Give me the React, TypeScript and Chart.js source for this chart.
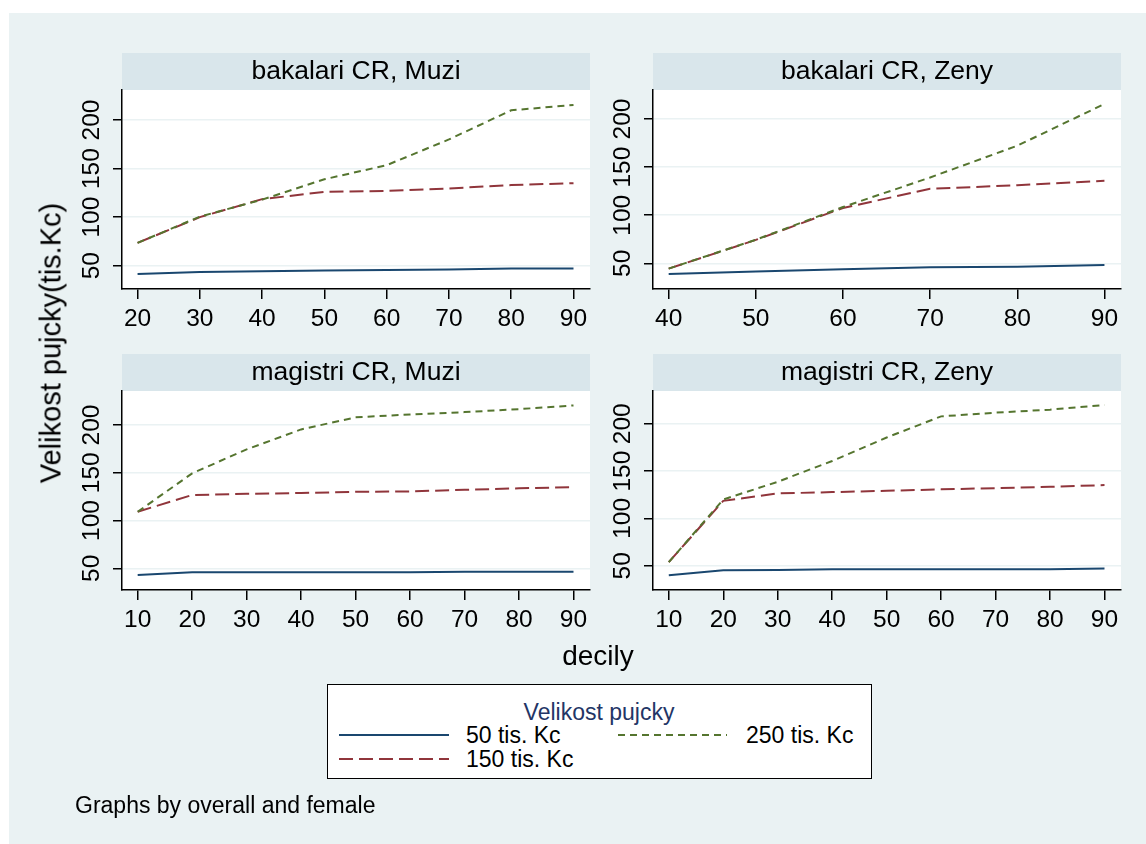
import React, { useEffect, useRef } from 'react';
import { Chart, registerables } from 'chart.js';

Chart.register(...registerables);

// ---------------- data ----------------
const yTicks = [50, 100, 150, 200];
const seriesLabels = ['50 tis. Kc', '150 tis. Kc', '250 tis. Kc'];
const panelTitles = ['bakalari CR, Muzi', 'bakalari CR, Zeny', 'magistri CR, Muzi', 'magistri CR, Zeny'];

const bakalariMuziDecily = [20, 30, 40, 50, 60, 70, 80, 90];
const bakalariMuzi50 = [41.5, 43.5, 44.2, 45, 45.5, 46.2, 47, 47.2];
const bakalariMuzi150 = [73.5, 100, 118.5, 126, 127, 129.5, 133, 135];
const bakalariMuzi250 = [73.5, 100.5, 118, 139, 153.5, 180, 210, 215.5];

const bakalariZenyDecily = [40, 50, 60, 70, 80, 90];
const bakalariZeny50 = [39, 41.5, 43.7, 45.8, 46.5, 48.2];
const bakalariZeny150 = [44.5, 74.3, 107.5, 127.4, 131.2, 135.7];
const bakalariZeny250 = [44.5, 74.5, 108.5, 139.2, 172.2, 215.6];

const magistriDecily = [10, 20, 30, 40, 50, 60, 70, 80, 90];
const magistriMuzi50 = [43, 45.8, 45.8, 45.8, 45.8, 45.8, 46.5, 46.5, 46.5];
const magistriMuzi150 = [109.2, 126.7, 128, 128.8, 130.1, 130.5, 132.2, 133.7, 135];
const magistriMuzi250 = [109.2, 149.4, 174.5, 195.4, 208, 211, 213.5, 216.6, 220.5];

const magistriZeny50 = [40, 45.3, 45.5, 46.4, 46.4, 46.4, 46.4, 46.4, 47.1];
const magistriZeny150 = [53.8, 118.6, 126.4, 127.8, 129.2, 130.7, 132, 133.4, 135.2];
const magistriZeny250 = [53.8, 120, 138.7, 160.7, 185.5, 207.8, 211.7, 214.9, 219.8];

// ---------------- styling / layout ----------------
const W = 1146;
const H = 844;
const FONT = '"Liberation Sans", Arial, Helvetica, sans-serif';
const BG = '#eaf2f3';
const STRIP = '#d9e6eb';
const COLORS = ['#1a476f', '#90353b', '#55752f'];
const DASHES: number[][] = [[], [14, 6], [7, 5]];
const YW = 70; // reserved y-axis box width
const XH = 60; // reserved x-axis box height

type PanelDef = {
  title: string;
  decily: number[];
  series: number[][];
  box: { l: number; t: number; r: number; b: number };
  stripTop: number;
  xr: [number, number];
  yr: [number, number];
};

const panels: PanelDef[] = [
  {
    title: panelTitles[0],
    decily: bakalariMuziDecily,
    series: [bakalariMuzi50, bakalariMuzi150, bakalariMuzi250],
    box: { l: 122, t: 90, r: 590, b: 289 },
    stripTop: 53,
    xr: [17.5, 92.65],
    yr: [26, 230.9],
  },
  {
    title: panelTitles[1],
    decily: bakalariZenyDecily,
    series: [bakalariZeny50, bakalariZeny150, bakalariZeny250],
    box: { l: 653, t: 90, r: 1121, b: 289 },
    stripTop: 53,
    xr: [38.2, 91.9],
    yr: [23.3, 230.1],
  },
  {
    title: panelTitles[2],
    decily: magistriDecily,
    series: [magistriMuzi50, magistriMuzi150, magistriMuzi250],
    box: { l: 122, t: 391, r: 590, b: 590 },
    stripTop: 354,
    xr: [7.12, 93.03],
    yr: [27.3, 235.6],
  },
  {
    title: panelTitles[3],
    decily: magistriDecily,
    series: [magistriZeny50, magistriZeny150, magistriZeny250],
    box: { l: 653, t: 391, r: 1121, b: 590 },
    stripTop: 354,
    xr: [7.1, 93.03],
    yr: [24.4, 234.6],
  },
];

const plotBg = {
  id: 'plotBg',
  beforeDraw(chart: any) {
    const { ctx, chartArea: a } = chart;
    ctx.save();
    ctx.fillStyle = '#ffffff';
    ctx.fillRect(a.left, a.top, a.right - a.left, a.bottom - a.top);
    ctx.restore();
  },
};

function Panel({ p }: { p: PanelDef }) {
  const ref = useRef<HTMLCanvasElement>(null);
  useEffect(() => {
    const canvas = ref.current;
    if (!canvas) return;
    const datasets = p.series.map((vals, si) => ({
      label: seriesLabels[si],
      data: p.decily.map((x, i) => ({ x, y: vals[i] })),
      borderColor: COLORS[si],
      backgroundColor: COLORS[si],
      borderWidth: 2,
      borderDash: DASHES[si],
      pointRadius: 0,
      tension: 0,
      fill: false,
      order: 2 - si,
    }));
    const chart = new Chart(canvas, {
      type: 'line',
      data: { datasets },
      plugins: [plotBg],
      options: {
        animation: false,
        responsive: false,
        maintainAspectRatio: false,
        events: [],
        layout: {
          padding: {
            left: p.box.l - YW,
            top: p.box.t,
            right: W - p.box.r,
            bottom: H - p.box.b - XH,
          },
        },
        plugins: { legend: { display: false }, tooltip: { enabled: false }, title: { display: false } },
        scales: {
          x: {
            type: 'linear',
            min: p.xr[0],
            max: p.xr[1],
            afterBuildTicks: (s: any) => {
              s.ticks = p.decily.map((v) => ({ value: v }));
            },
            afterFit: (s: any) => {
              s.height = XH;
            },
            grid: {
              drawOnChartArea: false,
              drawTicks: true,
              tickLength: 10,
              tickColor: '#000',
              tickWidth: 1.5,
              lineWidth: 1.5,
            },
            border: { display: true, color: '#000', width: 1.5 },
            ticks: {
              autoSkip: false,
              maxRotation: 0,
              minRotation: 0,
              color: '#000',
              padding: 6,
              font: { family: FONT, size: 24.5 },
              callback: (v: any) => String(v),
            },
          },
          y: {
            type: 'linear',
            min: p.yr[0],
            max: p.yr[1],
            afterBuildTicks: (s: any) => {
              s.ticks = yTicks.map((v) => ({ value: v }));
            },
            afterFit: (s: any) => {
              s.width = YW;
            },
            grid: {
              color: BG,
              lineWidth: 1.5,
              drawTicks: true,
              tickLength: 9,
              tickColor: '#000',
              tickWidth: 1.5,
            },
            border: { display: true, color: '#000', width: 1.5 },
            ticks: {
              minRotation: 90,
              maxRotation: 90,
              crossAlign: 'center',
              color: '#000',
              padding: 0,
              font: { family: FONT, size: 24.5 },
              callback: (v: any) => String(v),
            },
          },
        },
      } as any,
    });
    return () => chart.destroy();
  }, [p]);
  return (
    <canvas
      ref={ref}
      width={W}
      height={H}
      style={{ position: 'absolute', left: 0, top: 0, width: W, height: H }}
    />
  );
}

function Txt({
  x,
  y,
  size,
  children,
  align = 'center',
  color = '#000',
  rotate = false,
}: {
  x: number;
  y: number;
  size: number;
  children: React.ReactNode;
  align?: 'center' | 'left';
  color?: string;
  rotate?: boolean;
}) {
  const tx = align === 'center' ? '-50%' : '0';
  return (
    <div
      style={{
        position: 'absolute',
        left: x,
        top: y,
        fontFamily: FONT,
        fontSize: size,
        lineHeight: `${size}px`,
        color,
        whiteSpace: 'nowrap',
        transform: `translate(${tx}, -50%)${rotate ? ' rotate(-90deg)' : ''}`,
      }}
    >
      {children}
    </div>
  );
}

export default function App() {
  return (
    <div style={{ position: 'absolute', left: 0, top: 0, width: W, height: H, overflow: 'hidden', background: '#fff' }}>
      <div style={{ position: 'absolute', left: 9, top: 13, width: W - 9, height: H - 13, background: BG }} />
      {panels.map((p, i) => (
        <div
          key={'s' + i}
          style={{
            position: 'absolute',
            left: p.box.l,
            top: p.stripTop,
            width: p.box.r - p.box.l,
            height: p.box.t - p.stripTop,
            background: STRIP,
          }}
        />
      ))}
      {panels.map((p, i) => (
        <Panel key={'p' + i} p={p} />
      ))}
      {panels.map((p, i) => (
        <Txt key={'t' + i} x={(p.box.l + p.box.r) / 2} y={p.stripTop + 17} size={26.5}>
          {p.title}
        </Txt>
      ))}
      <Txt x={51} y={343} size={29} rotate>
        Velikost pujcky(tis.Kc)
      </Txt>
      <Txt x={598} y={656} size={28}>
        decily
      </Txt>
      <div
        style={{
          position: 'absolute',
          left: 327,
          top: 684,
          width: 545,
          height: 95,
          boxSizing: 'border-box',
          border: '1px solid #000',
          background: '#fff',
        }}
      />
      <svg width={W} height={H} style={{ position: 'absolute', left: 0, top: 0 }}>
        <line x1={339} y1={735} x2={449} y2={735} stroke={COLORS[0]} strokeWidth={2} />
        <line x1={339} y1={759} x2={449} y2={759} stroke={COLORS[1]} strokeWidth={2} strokeDasharray="14 6" />
        <line x1={618} y1={735} x2={727} y2={735} stroke={COLORS[2]} strokeWidth={2} strokeDasharray="7 5" />
      </svg>
      <Txt x={599} y={712} size={23} color="#233566">
        Velikost pujcky
      </Txt>
      <Txt x={466} y={735} size={23} align="left">
        {seriesLabels[0]}
      </Txt>
      <Txt x={466} y={759} size={23} align="left">
        {seriesLabels[1]}
      </Txt>
      <Txt x={746} y={735} size={23} align="left">
        {seriesLabels[2]}
      </Txt>
      <Txt x={75} y={805} size={23} align="left">
        Graphs by overall and female
      </Txt>
    </div>
  );
}
